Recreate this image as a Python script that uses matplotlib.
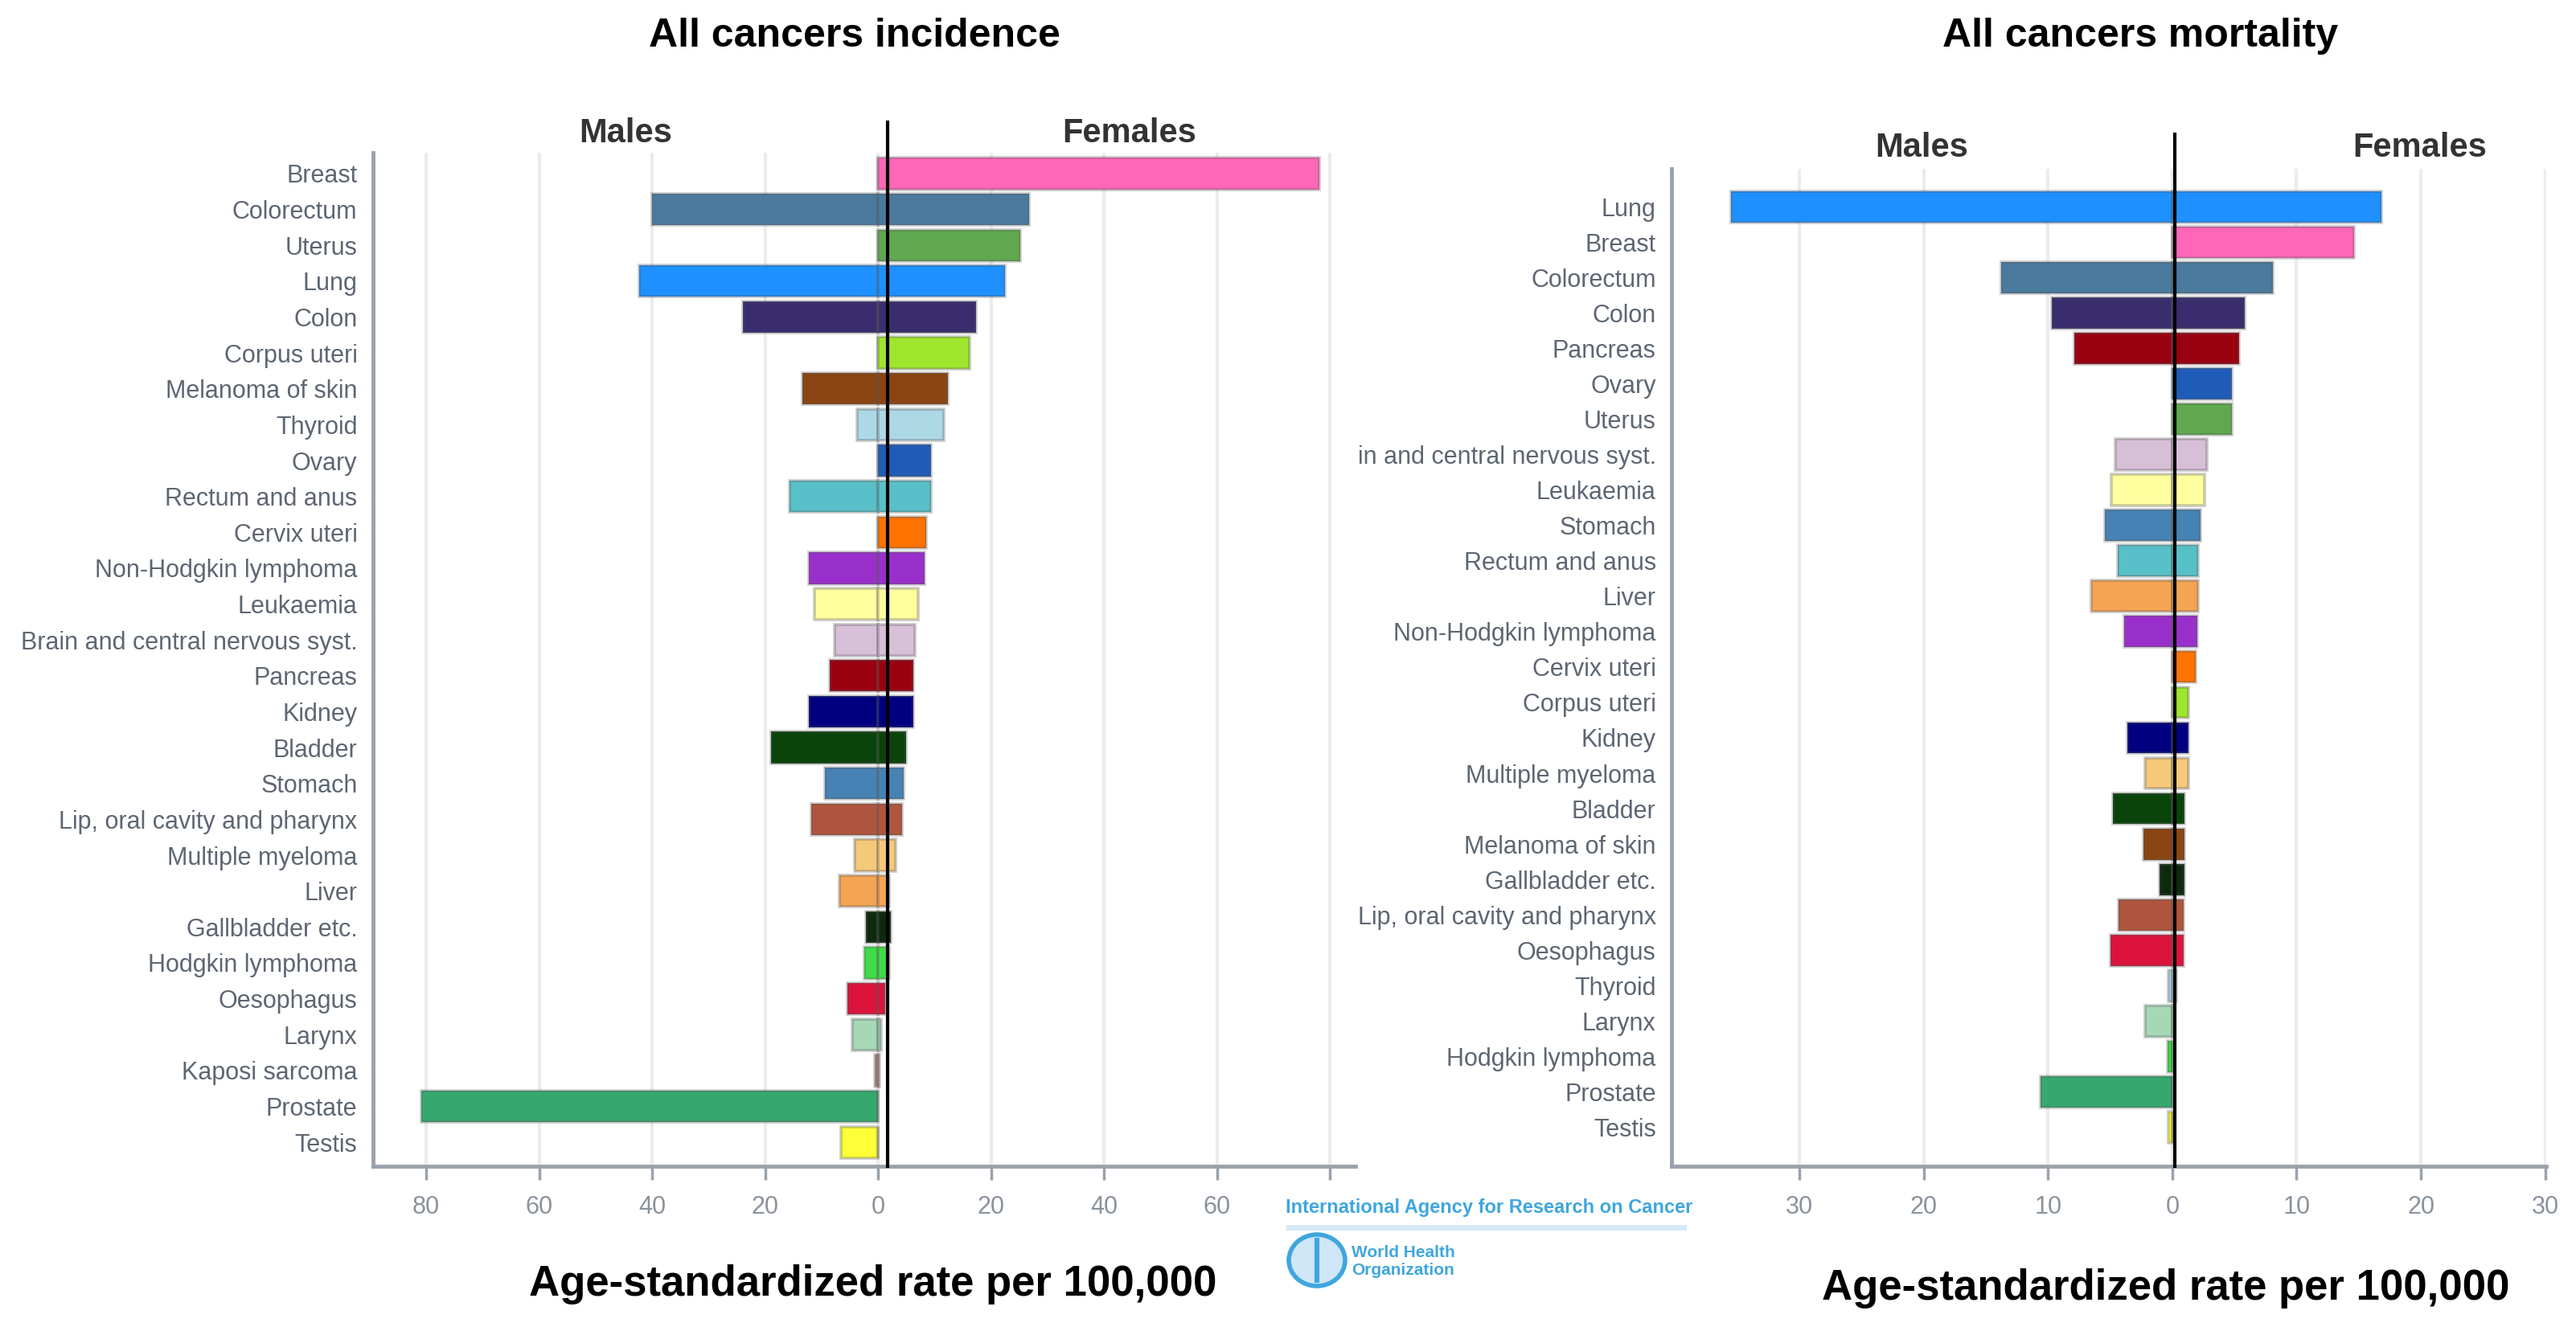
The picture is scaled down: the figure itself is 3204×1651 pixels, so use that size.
import matplotlib
matplotlib.use("Agg")
import matplotlib.pyplot as plt
import matplotlib.patches as mpatches

# ---- data: incidence (left panel) ----
inc_sites = ["Breast", "Colorectum", "Uterus", "Lung", "Colon", "Corpus uteri",
             "Melanoma of skin", "Thyroid", "Ovary", "Rectum and anus", "Cervix uteri",
             "Non-Hodgkin lymphoma", "Leukaemia", "Brain and central nervous syst.",
             "Pancreas", "Kidney", "Bladder", "Stomach", "Lip, oral cavity and pharynx",
             "Multiple myeloma", "Liver", "Gallbladder etc.", "Hodgkin lymphoma",
             "Oesophagus", "Larynx", "Kaposi sarcoma", "Prostate", "Testis"]
inc_males = [0, 40.0, 0, 42.3, 23.9, 0, 13.4, 3.7, 0, 15.7, 0, 12.2, 11.3, 7.7,
             8.5, 12.2, 19.0, 9.4, 11.9, 4.2, 6.9, 2.2, 2.5, 5.4, 4.6, 0.6, 80.9, 6.5]
inc_females = [78.1, 26.7, 25.2, 22.4, 17.4, 16.2, 12.3, 11.6, 9.4, 9.4, 8.5, 8.2,
               7.1, 6.5, 6.2, 6.2, 4.9, 4.6, 4.3, 3.1, 2.0, 2.2, 2.0, 1.2, 0.5, 0.2, 0, 0]

# ---- data: mortality (right panel) ----
mort_sites = ["Lung", "Breast", "Colorectum", "Colon", "Pancreas", "Ovary", "Uterus",
              "in and central nervous syst.", "Leukaemia", "Stomach", "Rectum and anus",
              "Liver", "Non-Hodgkin lymphoma", "Cervix uteri", "Corpus uteri", "Kidney",
              "Multiple myeloma", "Bladder", "Melanoma of skin", "Gallbladder etc.",
              "Lip, oral cavity and pharynx", "Oesophagus", "Thyroid", "Larynx",
              "Hodgkin lymphoma", "Prostate", "Testis"]
mort_males = [35.5, 0, 13.8, 9.7, 7.9, 0, 0, 4.6, 4.9, 5.4, 4.4, 6.5, 3.9, 0, 0, 3.6,
              2.2, 4.8, 2.3, 1.0, 4.3, 5.0, 0.3, 2.2, 0.4, 10.6, 0.3]
mort_females = [16.8, 14.6, 8.1, 5.8, 5.4, 4.8, 4.8, 2.8, 2.6, 2.3, 2.1, 2.1, 2.0, 1.9,
                1.3, 1.3, 1.3, 1.0, 1.0, 1.0, 0.9, 0.9, 0.3, 0.1, 0, 0, 0]

site_colors = {
    "Breast": "#ff66b8", "Colorectum": "#4a7a9e", "Uterus": "#5fa84f", "Lung": "#1e90ff",
    "Colon": "#3a2d6e", "Corpus uteri": "#9fe52e", "Melanoma of skin": "#8b4513",
    "Thyroid": "#add8e6", "Ovary": "#1f5cb8", "Rectum and anus": "#58c0c8",
    "Cervix uteri": "#ff7300", "Non-Hodgkin lymphoma": "#9a30cc", "Leukaemia": "#ffffa0",
    "Brain and central nervous syst.": "#d8bfd8", "in and central nervous syst.": "#d8bfd8",
    "Pancreas": "#990010", "Kidney": "#000080", "Bladder": "#0a440a", "Stomach": "#4682b4",
    "Lip, oral cavity and pharynx": "#b0553d", "Multiple myeloma": "#f5c97a",
    "Liver": "#f4a452", "Gallbladder etc.": "#0e2a0e", "Hodgkin lymphoma": "#3edd48",
    "Oesophagus": "#dc143c", "Larynx": "#a6d8b6", "Kaposi sarcoma": "#bc8f8f",
    "Prostate": "#36a86d", "Testis": "#ffff38",
}

plt.rcParams["font.family"] = ["Liberation Sans", "DejaVu Sans"]

fig = plt.figure(figsize=(32.04, 16.51), dpi=100)
fig.patch.set_facecolor("white")

spine_col = "#9aa2ad"
label_col = "#5d6672"
tick_col = "#8a929c"
edge = (0.35, 0.35, 0.35, 0.33)


def pyramid(ax, sites, males, females, xlim, ticks, ticklabels, ylim, zero_x, line_top):
    ypos = list(range(len(sites)))
    cols = [site_colors[s] for s in sites]
    ax.barh(ypos, [-m for m in males], height=0.88, color=cols, edgecolor=edge, linewidth=2.6, zorder=3)
    ax.barh(ypos, females, height=0.88, color=cols, edgecolor=edge, linewidth=2.6, zorder=3)
    ax.set_xlim(*xlim)
    ax.set_ylim(*ylim)
    ax.set_yticks(ypos)
    ax.set_yticklabels(sites, fontsize=22, color=label_col)
    ax.set_xticks(ticks)
    ax.set_xticklabels(ticklabels, fontsize=22, color=tick_col)
    ax.tick_params(axis="y", length=0, pad=14)
    ax.tick_params(axis="x", length=12, width=2.5, color=spine_col, pad=14)
    for t in ticks:
        ax.axvline(t, color="#ececec", lw=3, zorder=1)
    for s in ["top", "right"]:
        ax.spines[s].set_visible(False)
    for s in ["left", "bottom"]:
        ax.spines[s].set_color(spine_col)
        ax.spines[s].set_linewidth(3.5)
    ax.axvline(zero_x, ymin=0, ymax=line_top, color="black", lw=3, zorder=5, clip_on=False)


ax1 = fig.add_axes([0.1448, 0.1211, 0.3814, 0.7638])
pyramid(ax1, inc_sites, inc_males, inc_females, (-89.4, 84.5),
        [-80, -60, -40, -20, 0, 20, 40, 60, 80],
        ["80", "60", "40", "20", "0", "20", "40", "60", ""],
        (27.67, -0.58), 1.7, 1.03)

ax2 = fig.add_axes([0.6489, 0.1211, 0.3396, 0.7517])
pyramid(ax2, mort_sites, mort_males, mort_females, (-40.3, 30.1),
        [-30, -20, -10, 0, 10, 20, 30],
        ["30", "20", "10", "0", "10", "20", "30"],
        (27.1, -1.07), 0.2, 1.035)

# titles and headers
fig.text(1063 / 3204, 1 - 45 / 1651, "All cancers incidence", ha="center", va="center",
         fontsize=36, fontweight="bold", color="black")
fig.text(2662 / 3204, 1 - 45 / 1651, "All cancers mortality", ha="center", va="center",
         fontsize=36, fontweight="bold", color="black")
for x, y, s in [(778, 166, "Males"), (1405, 166, "Females"), (2390, 184, "Males"), (3010, 184, "Females")]:
    fig.text(x / 3204, 1 - y / 1651, s, ha="center", va="center", fontsize=30,
             fontweight="bold", color="#333333")

fig.text(1086 / 3204, 1 - 1598 / 1651, "Age-standardized rate per 100,000", ha="center",
         va="center", fontsize=38, fontweight="bold", color="black")
fig.text(2694 / 3204, 1 - 1603 / 1651, "Age-standardized rate per 100,000", ha="center",
         va="center", fontsize=38, fontweight="bold", color="black")

# IARC / WHO logo block
blue = "#3fa6de"
fig.text(1599 / 3204, 1 - 1502 / 1651, "International Agency for Research on Cancer",
         ha="left", va="center", fontsize=17, fontweight="bold", color=blue)
fig.add_artist(mpatches.Rectangle((1600 / 3204, 1 - 1531 / 1651), 498 / 3204, 7 / 1651,
                                  transform=fig.transFigure, color="#d6e9f7", lw=0))
fig.add_artist(mpatches.Ellipse((1638 / 3204, 1 - 1568 / 1651), 70 / 3204, 64 / 1651,
                                transform=fig.transFigure, facecolor="#cfe6f6",
                                edgecolor=blue, lw=4))
fig.add_artist(mpatches.Rectangle((1635 / 3204, 1 - 1596 / 1651), 6 / 3204, 56 / 1651,
                                  transform=fig.transFigure, color=blue, lw=0))
fig.text(1681 / 3204, 1 - 1558 / 1651, "World Health", ha="left", va="center",
         fontsize=15, fontweight="bold", color=blue)
fig.text(1681 / 3204, 1 - 1580 / 1651, "Organization", ha="left", va="center",
         fontsize=15, fontweight="bold", color=blue)

fig.savefig("out.png", dpi=100, facecolor="white")
